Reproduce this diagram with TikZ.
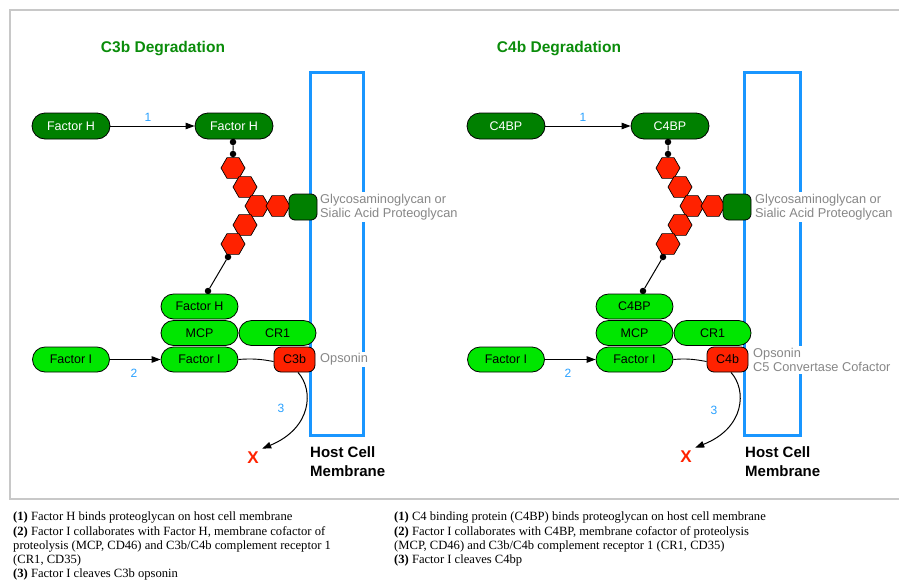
\documentclass[tikz,border=0pt]{standalone}
\usepackage{fontspec}
\setmainfont{Liberation Serif}
\setsansfont{Liberation Sans}
\usetikzlibrary{shapes.misc,shapes.geometric,arrows.meta}
\definecolor{dgreen}{RGB}{0,128,0}
\definecolor{lgreen}{RGB}{0,230,0}
\definecolor{hexred}{RGB}{255,34,0}
\definecolor{titlegreen}{RGB}{10,140,10}
\definecolor{memblue}{RGB}{25,150,255}
\definecolor{numblue}{RGB}{40,160,255}
\definecolor{notegray}{RGB}{135,135,135}
\definecolor{framegray}{RGB}{200,200,200}
\tikzset{
 pill/.style={rounded rectangle,draw,line width=0.8pt,minimum width=78pt,minimum height=26pt,inner sep=0pt,font=\sffamily\fontsize{12.5}{14}\selectfont},
 darkpill/.style={pill,fill=dgreen,text=white},
 litepill/.style={pill,fill=lgreen,minimum width=77pt,minimum height=25pt},
 redbox/.style={rectangle,rounded corners=7pt,draw,line width=0.8pt,fill=hexred,minimum width=41pt,minimum height=25pt,inner sep=0pt,font=\sffamily\fontsize{12.5}{14}\selectfont},
 hexa/.style={regular polygon,regular polygon sides=6,draw,line width=0.7pt,fill=hexred,minimum size=24pt,inner sep=0pt,outer sep=0pt},
 gag/.style={rectangle,rounded corners=6pt,draw,line width=0.8pt,fill=dgreen,minimum width=28pt,minimum height=26pt,inner sep=0pt},
 dot/.style={circle,fill=black,inner sep=0pt,minimum size=6.5pt},
 note/.style={text=notegray,font=\sffamily\fontsize{12.8}{14}\selectfont,align=left,anchor=west,fill=white,inner sep=2pt},
 num/.style={text=numblue,font=\sffamily\fontsize{12}{14}\selectfont},
 head/.style={text=titlegreen,font=\sffamily\bfseries\fontsize{15.5}{18}\selectfont},
 host/.style={font=\sffamily\bfseries\fontsize{15}{19}\selectfont,align=left,anchor=north west,inner sep=0pt},
 cross/.style={text=hexred,font=\sffamily\bfseries\fontsize{17}{17}\selectfont},
 membrane/.style={draw=memblue,line width=3pt},
 flow/.style={-{Triangle[length=9pt,width=6.5pt]},line width=1pt},
 legend/.style={font=\fontsize{12.6}{14.2}\selectfont,align=left,anchor=north west,inner sep=0pt},
}
\begin{document}
\begin{tikzpicture}[x=1pt,y=-1pt]
 \useasboundingbox (0,0) rectangle (899,579);
 \draw[framegray,line width=1.2pt] (899,10) -- (10,10) -- (10,499) -- (899,499);

 % C3b side
 \node[head] (titleL) at (163,49) {C3b Degradation};
 \draw[membrane] (310,72) rectangle (363,435);
 \node[darkpill] (fhA) at (71,126) {Factor H};
 \node[darkpill] (fhB) at (234,126) {Factor H};
 \draw[flow] (fhA.east) -- (fhB.west);
 \node[num] (n1) at (148,117) {1};
 \node[hexa] (hx1) at (233,168) {};
 \node[hexa] (hx2) at (245,187) {};
 \node[hexa] (hx3) at (257,206) {};
 \node[hexa] (hx4) at (278,206) {};
 \node[hexa] (hx5) at (245,225) {};
 \node[hexa] (hx6) at (233,244) {};
 \node[gag] (gag) at (303,207) {};
 \node[note] (glyL) at (318,207) {Glycosaminoglycan or\\Sialic Acid Proteoglycan};
 \node[dot] (p1) at (233,142) {};
 \node[dot] (p2) at (233,154) {};
 \draw[line width=1pt] (fhB.south) -- (p1) -- (p2) -- (hx1.north);
 \node[dot] (p3) at (228,257) {};
 \node[dot] (p4) at (208,291) {};
 \draw[line width=1pt] (p3) -- (p4);
 \node[litepill] (fhC) at (199.5,306.5) {Factor H};
 \node[litepill] (mcp) at (199.5,333) {MCP};
 \node[litepill] (cr1) at (277.5,333) {CR1};
 \node[litepill] (fiB) at (199.5,359.5) {Factor I};
 \node[litepill] (fiA) at (71,359.5) {Factor I};
 \draw[flow] (fiA.east) -- (fiB.west);
 \node[num] (n2) at (134,373) {2};
 \node[redbox] (c3b) at (294.5,359.5) {C3b};
 \draw[line width=0.9pt] (fiB.east) .. controls (255,358) and (265,360) .. ([yshift=-2pt]c3b.west);
 \node[note] (opsL) at (318,359.5) {Opsonin};
 \node[cross] (xL) at (253,458) {X};
 \draw[flow] (c3b.-75) .. controls (314,390) and (312,428) .. (xL.north east);
 \node[num] (n3) at (281,408) {3};
 \node[host] (hostL) at (310,446) {Host Cell\\Membrane};

 % C4b side
 \begin{scope}[xshift=435pt]
 \node[head] (titleR) at (124,49) {C4b Degradation};
 \draw[membrane] (309,72) rectangle (365,435);
 \node[darkpill] (bpA) at (71,126) {C4BP};
 \node[darkpill] (bpB) at (235,126) {C4BP};
 \draw[flow] (bpA.east) -- (bpB.west);
 \node[num] (m1) at (148,117) {1};
 \node[hexa] (hy1) at (233,168) {};
 \node[hexa] (hy2) at (245,187) {};
 \node[hexa] (hy3) at (257,206) {};
 \node[hexa] (hy4) at (278,206) {};
 \node[hexa] (hy5) at (245,225) {};
 \node[hexa] (hy6) at (233,244) {};
 \node[gag] (gagR) at (302,207) {};
 \node[note] (glyR) at (318,207) {Glycosaminoglycan or\\Sialic Acid Proteoglycan};
 \node[dot] (q1) at (233,142) {};
 \node[dot] (q2) at (233,154) {};
 \draw[line width=1pt] (bpB.south) -- (q1) -- (q2) -- (hy1.north);
 \node[dot] (q3) at (228,257) {};
 \node[dot] (q4) at (208,291) {};
 \draw[line width=1pt] (q3) -- (q4);
 \node[litepill] (bpC) at (199.5,306.5) {C4BP};
 \node[litepill] (mcpR) at (199.5,333) {MCP};
 \node[litepill] (cr1R) at (277.5,333) {CR1};
 \node[litepill] (fiD) at (199.5,359.5) {Factor I};
 \node[litepill] (fiC) at (71,359.5) {Factor I};
 \draw[flow] (fiC.east) -- (fiD.west);
 \node[num] (m2) at (133,373) {2};
 \node[redbox] (c4b) at (292.5,359.5) {C4b};
 \draw[line width=0.9pt] (fiD.east) .. controls (253,358) and (263,360) .. ([yshift=-2pt]c4b.west);
 \node[note] (opsR) at (316,360) {Opsonin\\C5 Convertase Cofactor};
 \node[cross] (xR) at (251,457) {X};
 \draw[flow] (c4b.-75) .. controls (312,390) and (310,428) .. (xR.north east);
 \node[num] (m3) at (279,410) {3};
 \node[host] (hostR) at (310,446) {Host Cell\\Membrane};
 \end{scope}

 % legend text
 \node[legend] (txtL) at (13,512) {\textbf{(1)} Factor H binds proteoglycan on host cell membrane\\
 \textbf{(2)} Factor I collaborates with Factor H, membrane cofactor of\\
 proteolysis (MCP, CD46) and C3b/C4b complement receptor 1\\
 (CR1, CD35)\\
 \textbf{(3)} Factor I cleaves C3b opsonin};
 \node[legend] (txtR) at (394,512) {\textbf{(1)} C4 binding protein (C4BP) binds proteoglycan on host cell membrane\\
 \textbf{(2)} Factor I collaborates with C4BP, membrane cofactor of proteolysis\\
 (MCP, CD46) and C3b/C4b complement receptor 1 (CR1, CD35)\\
 \textbf{(3)} Factor I cleaves C4bp};
\end{tikzpicture}
\end{document}
